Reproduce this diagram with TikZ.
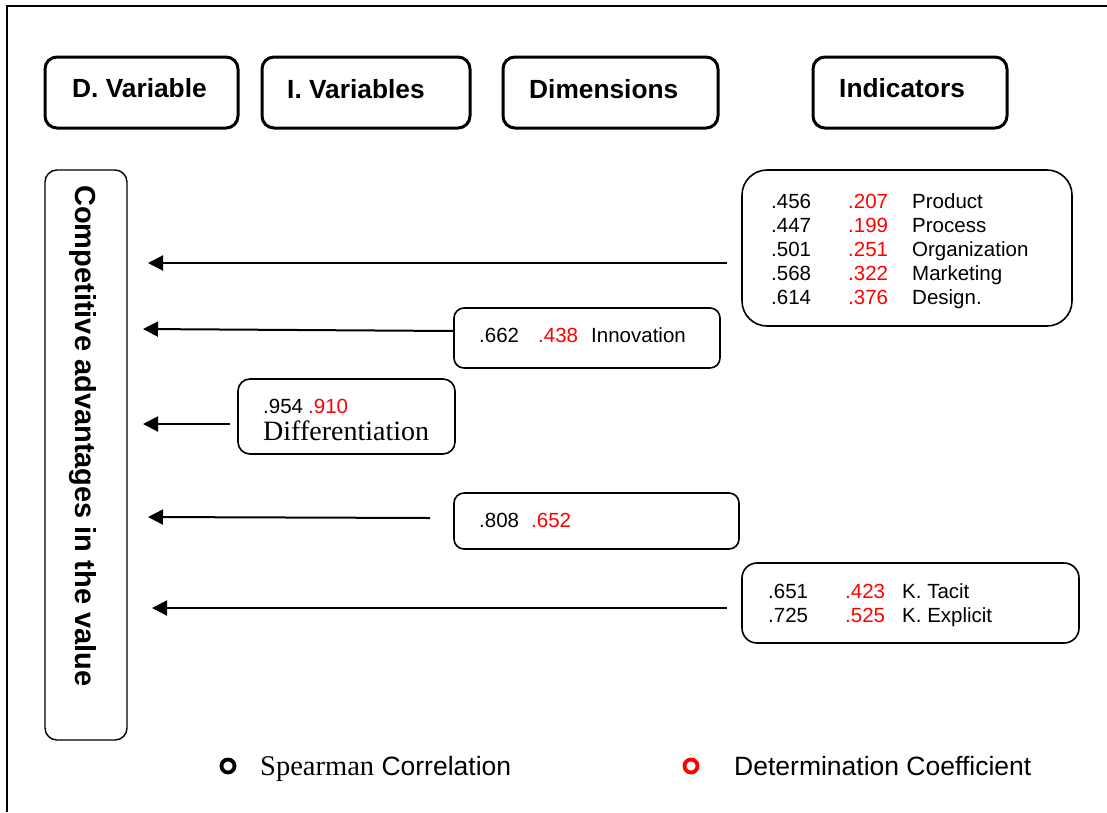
\documentclass[tikz,border=0pt]{standalone}
\usepackage{fontspec}
\setmainfont{Liberation Sans}
\newfontfamily\serifface{Liberation Serif}
\usetikzlibrary{arrows.meta}
\definecolor{myred}{RGB}{255,0,0}
\tikzset{
  hbox/.style={draw, line width=3pt, rounded corners=12pt, inner sep=0pt},
  ibox/.style={draw, line width=1.6pt, inner sep=0pt},
  htext/.style={anchor=base west, inner sep=0pt, font=\fontsize{26.3}{30}\selectfont\bfseries},
  vtext/.style={anchor=base west, inner sep=0pt, rotate=-90, font=\fontsize{29}{34}\selectfont\bfseries},
  stext/.style={anchor=base west, inner sep=0pt, font=\fontsize{20.5}{24}\selectfont},
  rtext/.style={stext, text=myred},
  ltext/.style={anchor=base west, inner sep=0pt, font=\fontsize{26.5}{30}\selectfont},
  arr/.style={line width=2pt, -{Triangle[length=15pt,width=15pt]}},
  ring/.style={draw, circle, line width=3.8pt, minimum size=13pt, inner sep=0pt}
}
\begin{document}
\begin{tikzpicture}[x=1pt,y=-1pt]
\useasboundingbox (0,0) rectangle (1107,812);
% outer frame lines
\coordinate (fa) at (7,812);
\coordinate (fb) at (7,6);
\coordinate (fc) at (1107,6);
\draw[line width=2.2pt] (fa) -- (fb) -- (fc);

% header boxes
\node[hbox, minimum width=193pt, minimum height=71pt] (h1) at (141.5,92.5) {};
\node[hbox, minimum width=208pt, minimum height=71pt] (h2) at (366,92.5) {};
\node[hbox, minimum width=215pt, minimum height=71pt] (h3) at (610.5,92.5) {};
\node[hbox, minimum width=194pt, minimum height=71pt] (h4) at (910,92.5) {};
\node[htext] (h1t) at (72,97) {D. Variable};
\node[htext] (h2t) at (287,98) {I. Variables};
\node[htext] (h3t) at (529,98) {Dimensions};
\node[htext] (h4t) at (839,97) {Indicators};

% vertical box
\node[ibox, line width=1.4pt, rounded corners=12pt, minimum width=82pt, minimum height=570pt] (dv) at (86,455) {};
\node[vtext] (dvt) at (75,185) {Competitive advantages in the value};

% indicator box 1
\node[ibox, rounded corners=25pt, minimum width=330pt, minimum height=156pt] (b1) at (907,248) {};
\node[stext] (b1a1) at (771,208) {.456};
\node[rtext] (b1b1) at (848,208) {.207};
\node[stext] (b1c1) at (912,208) {Product};
\node[stext] (b1a2) at (771,232) {.447};
\node[rtext] (b1b2) at (848,232) {.199};
\node[stext] (b1c2) at (912,232) {Process};
\node[stext] (b1a3) at (771,256.5) {.501};
\node[rtext] (b1b3) at (848,256.5) {.251};
\node[stext] (b1c3) at (912,256.5) {Organization};
\node[stext] (b1a4) at (771,280.5) {.568};
\node[rtext] (b1b4) at (848,280.5) {.322};
\node[stext] (b1c4) at (912,280.5) {Marketing};
\node[stext] (b1a5) at (771,304.5) {.614};
\node[rtext] (b1b5) at (848,304.5) {.376};
\node[stext] (b1c5) at (912,304.5) {Design.};

% box 2 innovation
\node[ibox, rounded corners=10pt, minimum width=266pt, minimum height=60pt] (b2) at (587,338) {};
\node[stext] (b2a) at (479,342) {.662};
\node[rtext] (b2b) at (538,342) {.438};
\node[stext] (b2c) at (591,342) {Innovation};

% box 3 differentiation
\node[ibox, rounded corners=12pt, minimum width=217pt, minimum height=75pt] (b3) at (346.5,416.5) {};
\node[stext] (b3a) at (263,413) {.954};
\node[rtext] (b3b) at (308,413) {.910};
\node[anchor=base west, inner sep=0pt, font=\serifface\fontsize{28}{30}\selectfont] (b3c) at (263,440.5) {Differentiation};

% box 4
\node[ibox, rounded corners=10pt, minimum width=285pt, minimum height=56pt] (b4) at (596.5,521) {};
\node[stext] (b4a) at (479,527) {.808};
\node[rtext] (b4b) at (531,527) {.652};

% box 5
\node[ibox, rounded corners=15pt, minimum width=337pt, minimum height=80pt] (b5) at (910.5,603) {};
\node[stext] (b5a1) at (768,598) {.651};
\node[rtext] (b5b1) at (845,598) {.423};
\node[stext] (b5c1) at (902,598) {K. Tacit};
\node[stext] (b5a2) at (768,622) {.725};
\node[rtext] (b5b2) at (845,622) {.525};
\node[stext] (b5c2) at (902,622) {K. Explicit};

% arrows
\coordinate (s1) at (727,263);
\coordinate (t1) at (148,263);
\coordinate (s2) at (454,331);
\coordinate (t2) at (143,329);
\coordinate (s3) at (230,424);
\coordinate (t3) at (143,424);
\coordinate (s4) at (430,518);
\coordinate (t4) at (148,517);
\coordinate (s5) at (727,608);
\coordinate (t5) at (152,608);
\draw[arr] (s1) -- (t1);
\draw[arr] (s2) -- (t2);
\draw[arr] (s3) -- (t3);
\draw[arr] (s4) -- (t4);
\draw[arr] (s5) -- (t5);

% legend
\node[ring] (l1) at (228,766) {};
\node[ltext] (l1t) at (260,775) {{\serifface\fontsize{28.5}{30}\selectfont Spearman} Correlation};
\node[ring, draw=myred] (l2) at (691,766) {};
\node[ltext] (l2t) at (734,775) {Determination Coefficient};
\end{tikzpicture}
\end{document}
